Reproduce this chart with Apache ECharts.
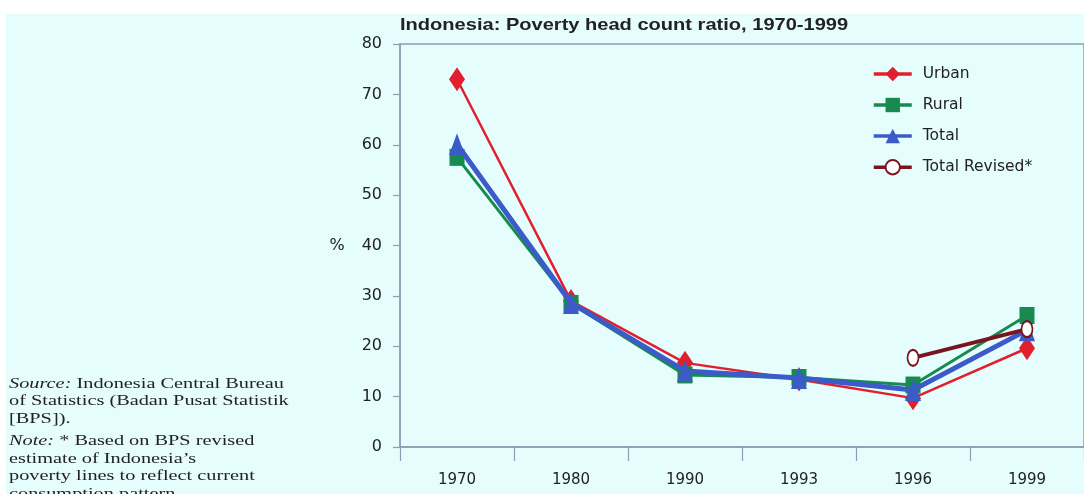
<!DOCTYPE html>
<html>
<head>
<meta charset="utf-8">
<script src="https://cdn.jsdelivr.net/npm/echarts@6/dist/echarts.min.js"></script>
<style>
  html, body { margin: 0; padding: 0; background: #ffffff; }
  #chart { width: 1084px; height: 494px; }
</style>
</head>
<body>
<div id="chart"></div>
<script>
// ---- data ----
const years = ['1970', '1980', '1990', '1993', '1996', '1999'];
const urban = [73.0, 29.0, 16.7, 13.4, 9.7, 19.6];
const rural = [57.5, 28.5, 14.3, 13.8, 12.3, 26.1];
const total = [60.1, 28.6, 15.1, 13.7, 11.3, 23.2];
const totalRevised = [null, null, null, null, 17.7, 23.4];
const yTicks = [0, 10, 20, 30, 40, 50, 60, 70, 80];
const seriesNames = ['Urban', 'Rural', 'Total', 'Total Revised*'];
const titleText = 'Indonesia: Poverty head count ratio, 1970-1999';
const noteLines = [
  '{i|Source:} Indonesia Central Bureau',
  'of Statistics (Badan Pusat Statistik',
  '[BPS]).',
  '{g|}',
  '{i|Note:} * Based on BPS revised',
  'estimate of Indonesia\u2019s',
  'poverty lines to reflect current',
  'consumption pattern.'
];

const chart = echarts.init(document.getElementById('chart'), null, { renderer: 'canvas' });
const sans = '"Liberation Sans", Arial, sans-serif';
const wide = '"DejaVu Sans", "Liberation Sans", sans-serif';
const serif = '"Liberation Serif", "DejaVu Serif", serif';
const axisColor = '#8b9fb0';

const option = {
  backgroundColor: 'transparent',
  animation: false,
  graphic: [
    { type: 'rect', z: -10, silent: true,
      shape: { x: 6, y: 14, width: 1084, height: 480 },
      style: { fill: '#e6fdfd' } },
    { type: 'text', x: 400, y: 25, scaleX: 1.18,
      style: { text: titleText, font: 'bold 17px ' + sans, fill: '#222222', verticalAlign: 'middle' } },
    { type: 'text', x: 337, y: 246,
      style: { text: '%', font: '16px ' + wide, fill: '#222222', align: 'center', verticalAlign: 'middle' } },
    { type: 'text', x: 9, y: 375, scaleX: 1.31,
      style: {
        text: noteLines.join('\n'),
        font: '15.5px ' + serif,
        fill: '#222222',
        lineHeight: 17.5,
        rich: {
          i: { fontStyle: 'italic', font: 'italic 15.5px ' + serif, lineHeight: 17.5 },
          g: { lineHeight: 5, height: 5 }
        }
      } }
  ],
  legend: {
    orient: 'vertical',
    left: 872,
    top: 66,
    padding: 0,
    itemWidth: 38,
    itemHeight: 18,
    itemGap: 15,
    data: seriesNames,
    lineStyle: { width: 3.5 },
    textStyle: { fontFamily: wide, fontSize: 15.5, color: '#222222', padding: [0, 0, 0, 6] }
  },
  grid: { left: 400, top: 44, width: 694, height: 403, show: true, borderColor: axisColor, borderWidth: 1.5, backgroundColor: 'transparent' },
  xAxis: {
    type: 'category',
    data: years,
    boundaryGap: true,
    axisLine: { show: true, lineStyle: { color: axisColor, width: 1.5 } },
    axisTick: { show: true, length: 14, lineStyle: { color: axisColor, width: 1.2 } },
    axisLabel: { margin: 26, fontFamily: wide, fontSize: 15, color: '#222222' },
    splitLine: { show: false }
  },
  yAxis: {
    type: 'value',
    min: 0, max: 80, interval: 10,
    axisLine: { show: true, lineStyle: { color: axisColor, width: 1.5 } },
    axisTick: { show: true, length: 7, lineStyle: { color: axisColor, width: 1.2 } },
    axisLabel: { margin: 18, fontFamily: wide, fontSize: 16, color: '#222222',
      formatter: v => yTicks.includes(v) ? String(v) : '' },
    splitLine: { show: false }
  },
  series: [
    { name: seriesNames[0], type: 'line', data: urban, symbol: 'diamond', symbolSize: [16, 24],
      itemStyle: { color: '#e0202e' }, lineStyle: { color: '#e0202e', width: 2.5 }, z: 2 },
    { name: seriesNames[1], type: 'line', data: rural, symbol: 'rect', symbolSize: [15, 17],
      itemStyle: { color: '#178a4e' }, lineStyle: { color: '#178a4e', width: 3 }, z: 3 },
    { name: seriesNames[2], type: 'line', data: total, symbol: 'triangle', symbolSize: [16, 22],
      itemStyle: { color: '#3a5bc8' }, lineStyle: { color: '#3a5bc8', width: 5 }, z: 4 },
    { name: seriesNames[3], type: 'line', data: totalRevised, symbol: 'emptyCircle', symbolSize: [11, 16],
      showSymbol: true, connectNulls: false,
      itemStyle: { color: '#7a1520', borderWidth: 2.5, borderColor: '#7a1520' },
      lineStyle: { color: '#7a1520', width: 4 }, z: 5 }
  ]
};
chart.setOption(option);
</script>
</body>
</html>
